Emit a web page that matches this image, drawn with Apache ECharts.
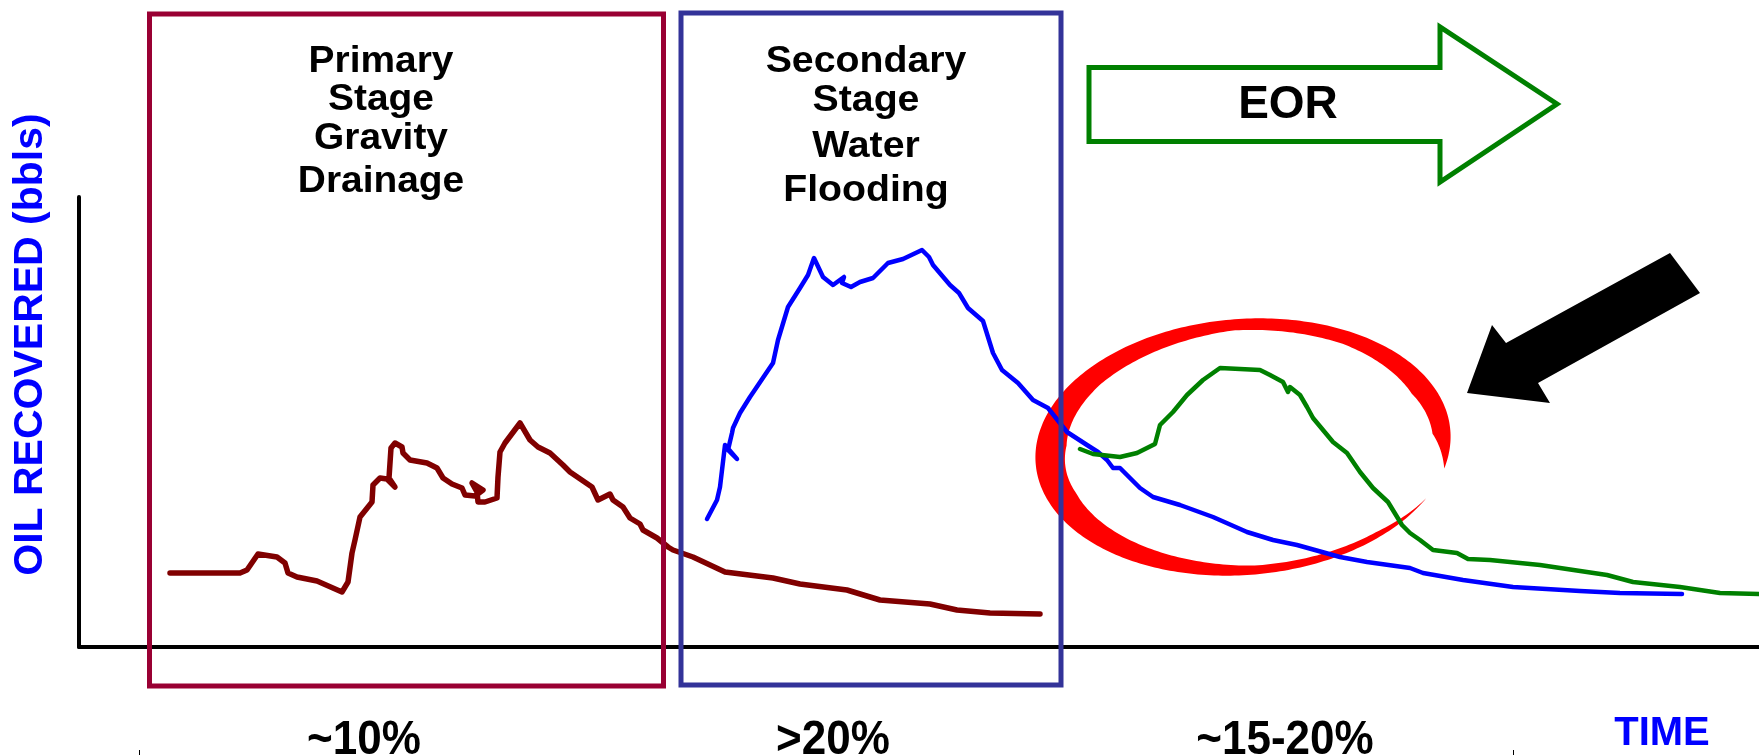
<!DOCTYPE html>
<html>
<head>
<meta charset="utf-8">
<script src="https://cdn.jsdelivr.net/npm/echarts@6.0.0/dist/echarts.min.js"></script>
<style>
  html, body { margin: 0; padding: 0; background: #fff; }
  #main { width: 1759px; height: 755px; }
</style>
</head>
<body>
<div id="main"></div>
<script>
// curves: [time, oil recovered] in arbitrary units
const primaryCurve = [
  [9.1, 7.4], [16.1, 7.4], [16.8, 7.7], [17.9, 9.3], [19.8, 9.0], [20.6, 8.4], [20.9, 7.4],
  [21.8, 7.0], [23.8, 6.6], [26.3, 5.5], [26.9, 6.5], [27.3, 9.4], [27.6, 10.7], [28.1, 13.0],
  [29.3, 14.5], [29.4, 16.2], [30.1, 16.9], [30.8, 16.8], [31.6, 16.0], [31.0, 16.9], [31.2, 19.9],
  [31.6, 20.4], [32.3, 20.0], [32.4, 19.4], [33.1, 18.7], [34.8, 18.4], [35.8, 17.9], [36.4, 16.9],
  [37.3, 16.3], [38.3, 15.9], [38.6, 15.2], [39.6, 15.1], [40.4, 15.7], [39.3, 16.4], [39.8, 15.5],
  [39.9, 14.5], [40.6, 14.5], [41.8, 14.9], [41.9, 17.0], [42.1, 19.5], [42.6, 20.4], [44.1, 22.4],
  [45.1, 20.7], [45.9, 20.0], [47.1, 19.4], [48.4, 18.2], [49.1, 17.5], [51.3, 16.0], [51.9, 14.7],
  [53.1, 15.3], [53.4, 14.7], [54.4, 14.0], [55.1, 12.9], [56.1, 12.3], [56.4, 11.7], [57.8, 10.9],
  [58.9, 10.0], [59.4, 9.7], [61.4, 9.0], [64.6, 7.5], [69.4, 6.9], [72.1, 6.3], [76.8, 5.7],
  [80.1, 4.7], [85.1, 4.3], [87.8, 3.7], [91.1, 3.4], [96.1, 3.3]
];
const secondaryCurve = [
  [62.8, 12.8], [63.8, 14.7], [64.1, 16.0], [64.6, 20.2], [65.8, 18.8], [64.9, 19.7], [65.3, 21.4],
  [65.4, 21.9], [66.1, 23.4], [67.1, 25.0], [69.4, 28.4], [69.9, 30.7], [70.9, 34.0], [72.1, 35.9],
  [72.9, 37.2], [73.5, 38.9], [74.4, 37.0], [75.4, 36.2], [76.5, 37.0], [76.3, 36.4], [77.2, 36.0],
  [78.1, 36.5], [79.4, 36.9], [80.9, 38.4], [82.4, 38.8], [84.3, 39.7], [85.0, 39.0], [85.4, 38.2],
  [87.1, 36.2], [88.0, 35.4], [88.9, 33.9], [90.4, 32.6], [91.4, 29.4], [92.3, 27.7], [93.9, 26.4],
  [95.4, 24.7], [96.9, 23.9], [98.8, 21.5], [100.8, 20.2], [101.9, 19.5], [102.8, 18.7], [103.4, 17.9],
  [104.1, 17.9], [104.8, 17.2], [106.1, 15.9], [107.4, 15.0], [110.1, 14.2], [113.4, 13.0],
  [116.8, 11.5], [119.4, 10.7], [121.8, 10.2], [126.1, 9.0], [128.8, 8.5], [133.1, 7.9], [134.4, 7.4],
  [138.4, 6.7], [143.4, 6.0], [150.1, 5.6], [154.1, 5.4], [160.3, 5.3]
];
const eorCurve = [
  [100.1, 19.8], [101.4, 19.3], [104.1, 19.0], [105.8, 19.4], [107.6, 20.3], [108.1, 22.2],
  [109.4, 23.5], [110.8, 25.2], [112.4, 26.7], [114.1, 27.9], [118.1, 27.7], [119.1, 27.2],
  [120.4, 26.5], [120.9, 25.5], [121.1, 26.0], [122.1, 25.2], [122.8, 24.0], [123.4, 22.9],
  [125.4, 20.5], [126.8, 19.4], [128.1, 17.5], [129.4, 15.9], [130.9, 14.5], [132.3, 12.2],
  [133.1, 11.4], [134.1, 10.7], [135.4, 9.7], [137.8, 9.4], [138.9, 8.8], [141.1, 8.7],
  [146.1, 8.2], [152.8, 7.2], [155.4, 6.5], [160.1, 6.0], [164.1, 5.4], [168.0, 5.3]
];
const primaryTitle = ['Primary', 'Stage', 'Gravity', 'Drainage'];
const secondaryTitle = ['Secondary', 'Stage', 'Water', 'Flooding'];
const eorTitle = 'EOR';
const recoveryLabels = ['~10%', '>20%', '~15-20%'];
const axisNames = ['OIL RECOVERED (bbls)', 'TIME'];

const chart = echarts.init(document.getElementById('main'));

// red hand-drawn ring around the EOR hump (open on the right)
const ringC = [1243, 447], ringR = [208, 128], ringTilt = -0.08;
const ringWidth = [[0.54, 0], [0.9, 6], [1.57, 9], [2.3, 20], [2.8, 28], [3.3, 30], [3.9, 20],
  [4.71, 11], [5.3, 14], [5.9, 22], [6.3, 18], [6.58, 0]];
function widthAt(t) {
  for (let i = 1; i < ringWidth.length; i++) {
    const a = ringWidth[i - 1], b = ringWidth[i];
    if (t <= b[0]) return a[1] + (b[1] - a[1]) * (t - a[0]) / (b[0] - a[0]);
  }
  return 0;
}
function ringPoint(t, inset) {
  const lx = (ringR[0] - inset) * Math.cos(t), ly = (ringR[1] - inset) * Math.sin(t);
  const c = Math.cos(ringTilt), s = Math.sin(ringTilt);
  return [ringC[0] + lx * c - ly * s, ringC[1] + lx * s + ly * c];
}
const outer = [], inner = [];
for (let t = 0.54; t <= 6.58; t += 0.02) {
  outer.push(ringPoint(t, 0));
  inner.unshift(ringPoint(t, widthAt(t)));
}

const bold = size => 'bold ' + size + 'px "Liberation Sans", Arial, sans-serif';
function label(text, x, y, size, color, extra) {
  return Object.assign({
    type: 'text', x: x, y: y, z: 20,
    style: {
      text: text, font: bold(size), fill: color,
      align: 'center', verticalAlign: 'middle',
      textAlign: 'center', textVerticalAlign: 'middle'
    }
  }, extra || {});
}

// stage titles are a little wider than plain Arial bold in the slide
const primaryRows = [62, 100, 139, 182];
const secondaryRows = [62, 101, 147, 191];
const titleGraphics = []
  .concat(primaryTitle.map((t, i) => label(t, 381, primaryRows[i], 36, '#000', { scaleX: 1.08 })))
  .concat(secondaryTitle.map((t, i) => label(t, 866, secondaryRows[i], 36, '#000', { scaleX: 1.09 })));

const option = {
  animation: false,
  backgroundColor: '#fff',
  grid: { left: 79, right: 0, top: 197, bottom: 108 },
  xAxis: {
    type: 'value', min: 0, max: 168,
    axisLine: { show: true, onZero: false, lineStyle: { color: '#000', width: 4 } },
    axisTick: { show: false }, axisLabel: { show: false }, splitLine: { show: false }
  },
  yAxis: {
    type: 'value', min: 0, max: 45,
    axisLine: { show: true, onZero: false, lineStyle: { color: '#000', width: 4 } },
    axisTick: { show: false }, axisLabel: { show: false }, splitLine: { show: false }
  },
  series: [
    { type: 'line', data: primaryCurve, showSymbol: false, z: 5,
      lineStyle: { color: '#800000', width: 5.5, cap: 'round', join: 'round' } },
    { type: 'line', data: secondaryCurve, showSymbol: false, z: 5,
      lineStyle: { color: '#0000ff', width: 4.5, cap: 'round', join: 'round' } },
    { type: 'line', data: eorCurve, showSymbol: false, z: 5,
      lineStyle: { color: '#008000', width: 4.5, cap: 'round', join: 'round' } }
  ],
  graphic: [
    { type: 'polygon', z: 1, shape: { points: outer.concat(inner) }, style: { fill: '#ff0000' } },
    { type: 'rect', z: 10, shape: { x: 149.5, y: 14, width: 514, height: 672 },
      style: { fill: 'none', stroke: '#990033', lineWidth: 5 } },
    { type: 'rect', z: 10, shape: { x: 681, y: 13, width: 380, height: 672 },
      style: { fill: 'none', stroke: '#333399', lineWidth: 5 } },
    { type: 'polygon', z: 10,
      shape: { points: [[1089, 67.5], [1440, 67.5], [1440, 27], [1557, 104], [1440, 182], [1440, 141.5], [1089, 141.5]] },
      style: { fill: 'none', stroke: '#008000', lineWidth: 5, lineJoin: 'miter' } },
    { type: 'polygon', z: 10,
      shape: { points: [[1670, 253], [1700, 293], [1538, 383], [1550, 403], [1467, 393], [1492, 325], [1506, 343]] },
      style: { fill: '#000' } },
    { type: 'line', z: 10, shape: { x1: 139.5, y1: 750, x2: 139.5, y2: 755 }, style: { stroke: '#000', lineWidth: 1 } },
    { type: 'line', z: 10, shape: { x1: 1513.5, y1: 750, x2: 1513.5, y2: 755 }, style: { stroke: '#000', lineWidth: 1 } },
    label(eorTitle, 1288, 105, 46, '#000'),
    label(recoveryLabels[0], 364, 741, 44, '#000', { scaleY: 1.08 }),
    label(recoveryLabels[1], 833, 741, 44, '#000', { scaleY: 1.08 }),
    label(recoveryLabels[2], 1285, 741, 44, '#000', { scaleY: 1.08 }),
    label(axisNames[0], 30.5, 344.5, 41, '#0000ff', { rotation: Math.PI / 2 }),
    label(axisNames[1], 1662, 734, 40, '#0000ff')
  ].concat(titleGraphics)
};

chart.setOption(option);
</script>
</body>
</html>
